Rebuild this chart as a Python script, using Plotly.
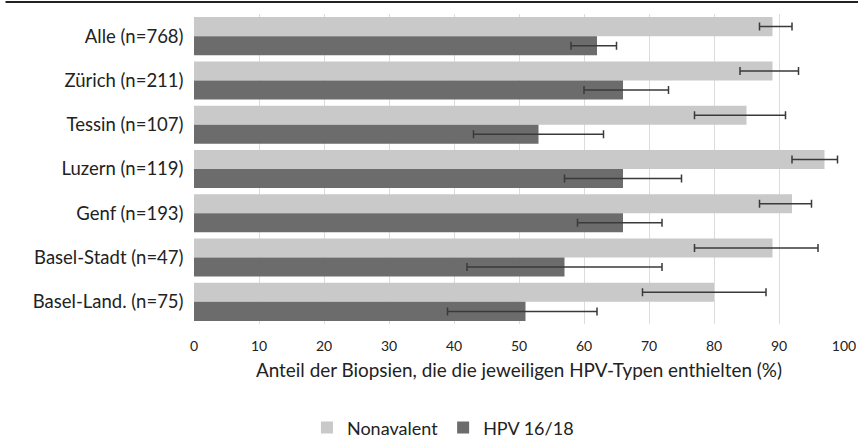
import plotly.graph_objects as go

categories = ["Alle (n=768)", "Zürich (n=211)", "Tessin (n=107)", "Luzern (n=119)",
              "Genf (n=193)", "Basel-Stadt (n=47)", "Basel-Land. (n=75)"]
nona = [89, 89, 85, 97, 92, 89, 80]
nona_lo = [87, 84, 77, 92, 87, 77, 69]
nona_hi = [92, 93, 91, 99, 95, 96, 88]
hpv = [62, 66, 53, 66, 66, 57, 51]
hpv_lo = [58, 60, 43, 57, 59, 42, 39]
hpv_hi = [65, 73, 63, 75, 72, 72, 62]
x_ticks = [0, 10, 20, 30, 40, 50, 60, 70, 80, 90, 100]

FONT = "Lato, Open Sans, sans-serif"

def err(vals, lo, hi, color):
    return dict(type="data", symmetric=False,
                array=[h - v for v, h in zip(vals, hi)],
                arrayminus=[v - l for v, l in zip(vals, lo)],
                color=color, thickness=1.5, width=4)

fig = go.Figure()
fig.add_trace(go.Bar(y=categories, x=nona, orientation="h", name="Nonavalent",
                     marker=dict(color="#c9c9c9", line=dict(width=0)),
                     error_x=err(nona, nona_lo, nona_hi, "#3a3a3a")))
fig.add_trace(go.Bar(y=categories, x=hpv, orientation="h", name="HPV 16/18",
                     marker=dict(color="#6c6c6c", line=dict(width=0)),
                     error_x=err(hpv, hpv_lo, hpv_hi, "#3a3a3a")))

fig.update_layout(
    width=858, height=444,
    margin=dict(l=194, r=14, t=14, b=120, autoexpand=False),
    paper_bgcolor="white", plot_bgcolor="white",
    barmode="group", bargap=0.14, bargroupgap=0,
    font=dict(family=FONT, size=18, color="#222222"),
    showlegend=True,
    legend=dict(orientation="h", x=0.383, y=-0.335, xanchor="center", yanchor="middle",
                font=dict(size=18, family=FONT, color="#222222"),
                itemwidth=30, tracegroupgap=0),
    xaxis=dict(range=[0, 100], tickvals=x_ticks, showgrid=True, gridcolor="#dcdcdc",
               gridwidth=1, zeroline=False, showline=False,
               ticks="outside", ticklen=9, tickcolor="rgba(0,0,0,0)",
               tickfont=dict(size=14, family=FONT, color="#222222"), automargin=False,
               title=dict(text="Anteil der Biopsien, die die jeweiligen HPV-Typen enthielten (%)",
                          font=dict(size=18.9, family=FONT, color="#222222"), standoff=10),
               fixedrange=True),
    yaxis=dict(categoryorder="array", categoryarray=categories, autorange="reversed",
               showgrid=False, zeroline=False, showline=False, ticks="", automargin=False,
               ticksuffix="  ", tickfont=dict(size=18.5, family=FONT, color="#222222")),
)

fig.add_shape(type="line", xref="paper", yref="paper", x0=-0.29, x1=1.03, y0=1.039, y1=1.039,
              line=dict(color="#222222", width=2))

fig.write_html("out.html", config={"displayModeBar": False},
               post_script="document.body.style.margin='0';document.body.style.overflow='hidden';")
